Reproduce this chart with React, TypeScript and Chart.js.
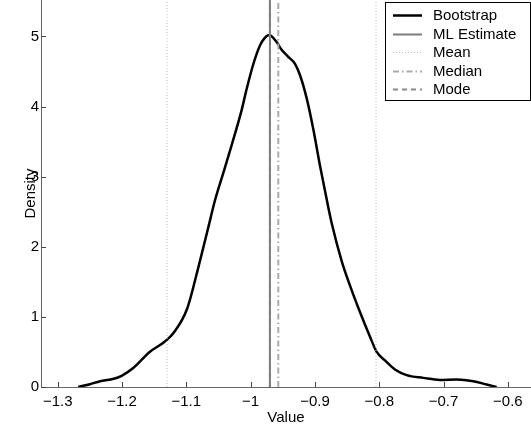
import React, { useEffect, useRef } from "react";
import { Chart, registerables } from "chart.js";

Chart.register(...registerables);

// Bootstrap density curve (value, density)
const densityX = [
  -1.268, -1.25, -1.234, -1.216, -1.2006, -1.1826, -1.157, -1.1333, -1.12, -1.0986,
  -1.0815, -1.066, -1.0555, -1.0426, -1.0295, -1.014, -1.0062, -0.996, -0.9855, -0.978,
  -0.971, -0.9596, -0.9518, -0.9415, -0.931, -0.9233, -0.9129, -0.9026, -0.8922, -0.8818,
  -0.874, -0.8585, -0.8456, -0.83, -0.8145, -0.804, -0.7911, -0.7756, -0.7574, -0.7316,
  -0.7056, -0.6796, -0.6538, -0.633, -0.6174,
];
const densityY = [
  0.0, 0.04, 0.083, 0.11, 0.16, 0.27, 0.5, 0.65, 0.77, 1.12,
  1.7, 2.27, 2.66, 3.05, 3.45, 3.95, 4.25, 4.6, 4.87, 4.98,
  5.02, 4.92, 4.81, 4.71, 4.61, 4.45, 4.12, 3.68, 3.16, 2.68,
  2.34, 1.8, 1.45, 1.07, 0.72, 0.5, 0.38, 0.25, 0.17, 0.13,
  0.1, 0.107, 0.083, 0.036, 0.0,
];

// Reference statistics (vertical lines)
const mlEstimate = -0.97;
const meanLines = [-1.13, -0.805];
const medianValue = -0.957;
const modeValue = -0.97;

// Axes
const xTicks = [-1.3, -1.2, -1.1, -1.0, -0.9, -0.8, -0.7, -0.6];
const xTickLabels = ["\u22121.3", "\u22121.2", "\u22121.1", "\u22121", "\u22120.9", "\u22120.8", "\u22120.7", "\u22120.6"];
const yTicks = [0, 1, 2, 3, 4, 5];
const yTickLabels = ["0", "1", "2", "3", "4", "5"];
const xRange = [-1.326, -0.564];
const yRange = [0, 5.52];
const xTitle = "Value";
const yTitle = "Density";

const legendLabels = ["Bootstrap", "ML Estimate", "Mean", "Median", "Mode"];

const FONT = "'Liberation Sans', Arial, Helvetica, sans-serif";

const styles: Record<string, { color: string; width: number; dash: number[] }> = {
  Bootstrap: { color: "#000000", width: 2.5, dash: [] },
  "ML Estimate": { color: "#7d7d7d", width: 2, dash: [] },
  Mean: { color: "#bdbdbd", width: 1, dash: [1, 2] },
  Median: { color: "#ababab", width: 2, dash: [6, 3, 1.5, 3] },
  Mode: { color: "#8a8a8a", width: 2, dash: [5, 4] },
};

function vline(label: string, x: number) {
  const s = styles[label];
  return {
    label,
    data: [
      { x, y: yRange[0] },
      { x, y: yRange[1] },
    ],
    borderColor: s.color,
    borderWidth: s.width,
    borderDash: s.dash,
    pointRadius: 0,
    showLine: true,
    fill: false,
  };
}

const inwardTicks = {
  id: "inwardTicks",
  afterDraw(chart: any) {
    const { ctx, chartArea } = chart;
    const xs = chart.scales.x;
    const ys = chart.scales.y;
    ctx.save();
    ctx.strokeStyle = "#444";
    ctx.lineWidth = 1;
    xTicks.forEach((v) => {
      const px = Math.round(xs.getPixelForValue(v)) + 0.5;
      ctx.beginPath();
      ctx.moveTo(px, chartArea.bottom);
      ctx.lineTo(px, chartArea.bottom - 5);
      ctx.stroke();
    });
    yTicks.forEach((v) => {
      const py = Math.round(ys.getPixelForValue(v)) + 0.5;
      ctx.beginPath();
      ctx.moveTo(chartArea.left, py);
      ctx.lineTo(chartArea.left + 5, py);
      ctx.stroke();
    });
    ctx.restore();
  },
};

const boxLegend = {
  id: "boxLegend",
  afterDraw(chart: any) {
    const { ctx, chartArea } = chart;
    const right = chartArea.right - 1;
    const boxW = 145;
    const boxH = 98;
    const left = right - boxW;
    const top = chartArea.top + 2;
    ctx.save();
    ctx.fillStyle = "#ffffff";
    ctx.fillRect(left, top, boxW, boxH);
    ctx.strokeStyle = "#000000";
    ctx.lineWidth = 1;
    ctx.setLineDash([]);
    ctx.strokeRect(Math.round(left) + 0.5, Math.round(top) + 0.5, boxW, boxH);
    ctx.font = `15px ${FONT}`;
    ctx.textBaseline = "middle";
    ctx.textAlign = "left";
    legendLabels.forEach((lab, i) => {
      const s = styles[lab];
      const cy = top + 13 + i * 18.5;
      ctx.beginPath();
      ctx.strokeStyle = s.color;
      ctx.lineWidth = s.width;
      ctx.setLineDash(s.dash);
      ctx.moveTo(left + 8, Math.round(cy) + 0.5);
      ctx.lineTo(left + 37, Math.round(cy) + 0.5);
      ctx.stroke();
      ctx.setLineDash([]);
      ctx.fillStyle = "#000";
      ctx.fillText(lab, left + 48, cy + 1);
    });
    ctx.restore();
  },
};

export default function App() {
  const ref = useRef<HTMLCanvasElement | null>(null);

  useEffect(() => {
    if (!ref.current) return;
    const bs = styles.Bootstrap;
    const chart = new Chart(ref.current, {
      type: "scatter",
      data: {
        datasets: [
          vline("Mean", meanLines[0]),
          vline("Mean", meanLines[1]),
          vline("ML Estimate", mlEstimate),
          vline("Mode", modeValue),
          vline("Median", medianValue),
          {
            label: "Bootstrap",
            data: densityX.map((x, i) => ({ x, y: densityY[i] })),
            borderColor: bs.color,
            borderWidth: bs.width,
            pointRadius: 0,
            showLine: true,
            fill: false,
            cubicInterpolationMode: "monotone",
          } as any,
        ],
      },
      options: {
        responsive: false,
        animation: false,
        devicePixelRatio: 1,
        layout: { padding: 0 },
        plugins: {
          legend: { display: false },
          tooltip: { enabled: false },
        },
        scales: {
          x: {
            type: "linear",
            position: "bottom",
            min: xRange[0],
            max: xRange[1],
            grid: { display: false, drawTicks: false },
            border: { display: true, color: "#666", width: 1 },
            afterBuildTicks: (s: any) => {
              s.ticks = xTicks.map((v) => ({ value: v }));
            },
            afterFit: (s: any) => {
              s.height = 38;
              s.paddingLeft = 0;
              s.paddingRight = 0;
            },
            ticks: {
              autoSkip: false,
              maxRotation: 0,
              padding: 6,
              color: "#000",
              font: { family: FONT, size: 15 },
              callback: (_v: any, i: number) => xTickLabels[i],
            },
            title: {
              display: true,
              text: xTitle,
              color: "#000",
              font: { family: FONT, size: 15 },
              padding: { top: 0, bottom: -2 },
            },
          },
          y: {
            type: "linear",
            position: "left",
            min: yRange[0],
            max: yRange[1],
            grid: { display: false, drawTicks: false },
            border: { display: true, color: "#666", width: 1 },
            afterBuildTicks: (s: any) => {
              s.ticks = yTicks.map((v) => ({ value: v }));
            },
            afterFit: (s: any) => {
              s.width = 41;
              s.paddingTop = 0;
              s.paddingBottom = 0;
            },
            ticks: {
              autoSkip: false,
              padding: 2,
              color: "#000",
              font: { family: FONT, size: 15 },
              callback: (_v: any, i: number) => yTickLabels[i],
            },
            title: {
              display: true,
              text: yTitle,
              color: "#000",
              font: { family: FONT, size: 15 },
              padding: { top: 21.5, bottom: 0 },
            },
          },
        },
      },
      plugins: [inwardTicks, boxLegend],
    });
    return () => chart.destroy();
  }, []);

  return (
    <div style={{ position: "fixed", left: 0, top: 0, width: 531, height: 425, background: "#fff" }}>
      <canvas ref={ref} width={531} height={425} style={{ display: "block" }} />
    </div>
  );
}
